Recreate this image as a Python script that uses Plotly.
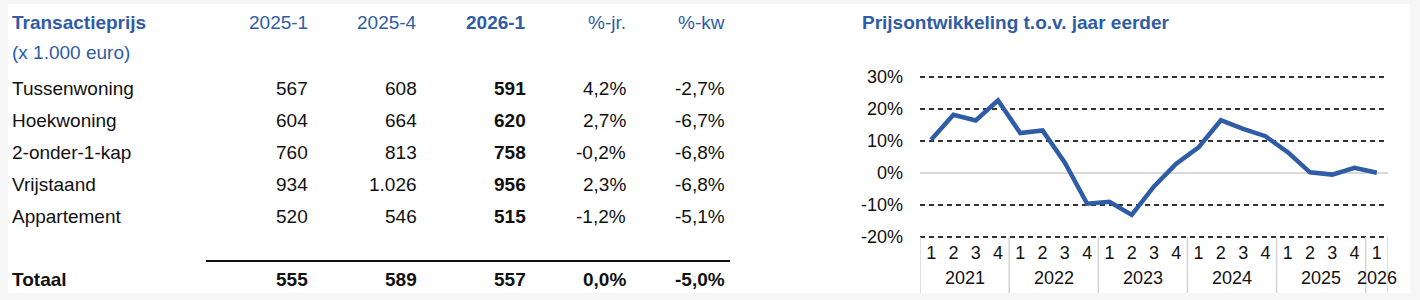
import plotly.graph_objects as go

# ---------------- data ----------------
table_title = "Transactieprijs"
table_subtitle = "(x 1.000 euro)"
col_headers = ["2025-1", "2025-4", "2026-1", "%-jr.", "%-kw"]
row_labels = ["Tussenwoning", "Hoekwoning", "2-onder-1-kap", "Vrijstaand", "Appartement"]
price_2025_1 = [567, 604, 760, 934, 520]
price_2025_4 = [608, 664, 813, 1026, 546]
price_2026_1 = [591, 620, 758, 956, 515]
pct_year = [4.2, 2.7, -0.2, 2.3, -1.2]
pct_quarter = [-2.7, -6.7, -6.8, -6.8, -5.1]
total_label = "Totaal"
total_prices = [555, 589, 557]
total_pcts = [0.0, -5.0]

chart_title = "Prijsontwikkeling t.o.v. jaar eerder"
years = ["2021", "2022", "2023", "2024", "2025", "2026"]
quarters_per_year = [4, 4, 4, 4, 4, 1]
point_quarters = ["1", "2", "3", "4"] * 5 + ["1"]
yoy_change = [10.4, 18.2, 16.4, 22.7, 12.5, 13.3, 3.2, -9.6, -9.0, -13.1, -4.2,
              2.9, 8.0, 16.5, 13.8, 11.5, 6.5, 0.2, -0.5, 1.6, 0.1]
y_ticks = [-20, -10, 0, 10, 20, 30]

# ---------------- styling ----------------
W, H = 1420, 300
BLUE = "#2E5CA6"
BLACK = "#111111"
FONT = "Liberation Sans, Arial, Helvetica, sans-serif"
FS = 19
AX_FS = 18


def px(x):
    return x / W


def py(y):
    return 1 - y / H


def fmt_int(v):
    return f"{v:,}".replace(",", ".")


def fmt_pct(v):
    return f"{v:.1f}%".replace(".", ",")


annotations = []


def add_text(text, x, y, color=BLACK, bold=False, anchor="right", size=FS):
    shift = 2 if anchor == "right" else -2
    annotations.append(dict(
        text=f"<b>{text}</b>" if bold else text,
        x=px(x + shift), y=py(y), xref="paper", yref="paper",
        xanchor=anchor, yanchor="middle", showarrow=False,
        font=dict(family=FONT, size=size, color=color),
    ))


# table
col_right = [308, 417, 526, 626, 725]
left_x = 12
add_text(table_title, left_x, 22, BLUE, True, "left")
add_text(table_subtitle, left_x, 52, BLUE, False, "left")
for j, h in enumerate(col_headers):
    add_text(h, col_right[j], 22, BLUE, j == 2)

row_y0, row_dy = 88, 32
for i, lab in enumerate(row_labels):
    y = row_y0 + row_dy * i
    add_text(lab, left_x, y, anchor="left")
    vals = [fmt_int(price_2025_1[i]), fmt_int(price_2025_4[i]), fmt_int(price_2026_1[i]),
            fmt_pct(pct_year[i]), fmt_pct(pct_quarter[i])]
    for j, v in enumerate(vals):
        add_text(v, col_right[j], y, bold=(j == 2))

tot_y = 279
add_text(total_label, left_x, tot_y, bold=True, anchor="left")
tot_vals = [fmt_int(v) for v in total_prices] + [fmt_pct(v) for v in total_pcts]
for j, v in enumerate(tot_vals):
    add_text(v, col_right[j], tot_y, bold=True)

# chart title
add_text(chart_title, 862, 22, BLUE, True, "left")

shapes = [
    dict(type="rect", xref="paper", yref="paper", x0=px(8), x1=px(1410), y0=py(293), y1=py(4),
         fillcolor="white", line=dict(width=0), layer="below"),
    dict(type="line", xref="paper", yref="paper", x0=px(206), x1=px(730), y0=py(261), y1=py(261),
         line=dict(color=BLACK, width=2)),
]

# year group labels and dividers on the category axis
start = 0
for yr, n in zip(years, quarters_per_year):
    annotations.append(dict(
        text=yr, x=start + (n - 1) / 2, y=py(278), xref="x", yref="paper",
        xanchor="center", yanchor="middle", showarrow=False,
        font=dict(family=FONT, size=AX_FS, color=BLACK),
    ))
    shapes.append(dict(type="line", xref="x", yref="paper", x0=start - 0.5, x1=start - 0.5,
                       y0=py(293), y1=py(237), line=dict(color="#d4d4d4", width=1.5)))
    start += n
shapes.append(dict(type="line", xref="x", yref="paper", x0=start - 0.5, x1=start - 0.5,
                   y0=py(293), y1=py(237), line=dict(color="#d4d4d4", width=1.5)))

fig = go.Figure()
fig.add_trace(go.Scatter(
    x=list(range(len(yoy_change))), y=yoy_change, mode="lines",
    line=dict(color=BLUE, width=4.5), hoverinfo="skip", showlegend=False,
))

pad = 0.8
unit_px = (237 - 77) / (y_ticks[-1] - y_ticks[0])
fig.update_layout(
    width=W, height=H,
    margin=dict(l=0, r=0, t=0, b=0),
    paper_bgcolor="#f6f6f6", plot_bgcolor="rgba(0,0,0,0)",
    font=dict(family=FONT, size=AX_FS, color=BLACK),
    annotations=annotations, shapes=shapes,
    xaxis=dict(
        domain=[px(920), px(1388)], range=[-0.5, len(yoy_change) - 0.5],
        tickvals=list(range(len(point_quarters))), ticktext=point_quarters,
        showgrid=False, zeroline=False, showline=False, ticks="",
        tickfont=dict(family=FONT, size=AX_FS, color=BLACK), automargin=False,
    ),
    yaxis=dict(
        domain=[py(237 + pad * unit_px), py(77 - pad * unit_px)],
        range=[y_ticks[0] - pad, y_ticks[-1] + pad],
        tickvals=y_ticks, ticktext=[f"{v}%" for v in y_ticks],
        showgrid=True, gridcolor="#333333", gridwidth=1.5, griddash="5px,4px",
        zeroline=True, zerolinecolor="#d9d9d9", zerolinewidth=1.5,
        showline=False, ticks="", ticklabelstandoff=16,
        tickfont=dict(family=FONT, size=AX_FS, color=BLACK), automargin=False,
    ),
)

fig.write_html("out.html")
